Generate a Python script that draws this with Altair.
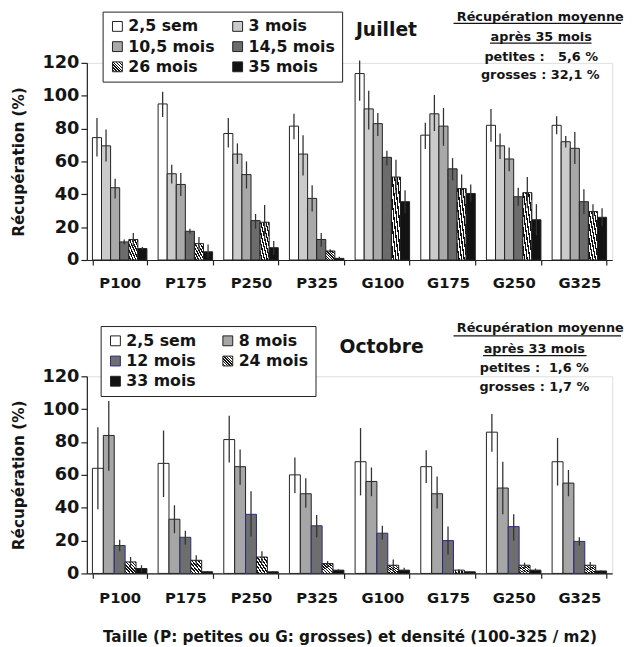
import altair as alt
import pandas as pd

cats = ["P100", "P175", "P250", "P325", "G100", "G175", "G250", "G325"]

# ---- Juillet ----
jul_series = ["2,5 sem", "3 mois", "10,5 mois", "14,5 mois", "26 mois", "35 mois"]
jul_val = {
    "2,5 sem":   [74.5, 95, 77, 81.5, 113.5, 76, 82, 82],
    "3 mois":    [69.5, 52.5, 64.5, 64.5, 92, 89, 69.5, 72],
    "10,5 mois": [44, 46, 52, 37.5, 83, 81.5, 61.5, 68],
    "14,5 mois": [11, 17.5, 24, 12.5, 62.5, 55.5, 38.5, 35.5],
    "26 mois":   [12.5, 10, 23, 5.5, 50.5, 43.5, 41, 29.5],
    "35 mois":   [7, 5, 7.5, 1, 35.5, 40.5, 24.5, 26],
}
jul_lo = {
    "2,5 sem":   [63, 87, 68.5, 73.5, 97, 67.5, 72, 76.5],
    "3 mois":    [60, 46.5, 58.5, 51.5, 79.5, 78.5, 61.5, 68.5],
    "10,5 mois": [37.5, 39, 43.5, 29.5, 75.5, 69.5, 54, 58.5],
    "14,5 mois": [9.5, 16, 19, 8, 57.5, 48.5, 33, 28],
    "26 mois":   [8.5, 6, 12.5, 4.5, 40, 35, 31.5, 25],
    "35 mois":   [6, 1, 3, 0.5, 28.5, 35.5, 15, 20.5],
}
jul_hi = {
    "2,5 sem":   [86.5, 102.5, 86.5, 89, 121.5, 83.5, 92, 87.5],
    "3 mois":    [79.5, 58, 71, 76, 103, 100.5, 77, 75.5],
    "10,5 mois": [49.5, 53, 60, 45.5, 89.5, 92.5, 68.5, 78],
    "14,5 mois": [12.5, 19, 28, 16.5, 66.5, 62, 44, 43],
    "26 mois":   [16.5, 14, 33.5, 6.5, 61, 52, 50.5, 34],
    "35 mois":   [8, 9.5, 11.5, 2, 42.5, 46, 34, 31.5],
}

# ---- Octobre ----
oct_series = ["2,5 sem", "8 mois", "12 mois", "24 mois", "33 mois"]
oct_val = {
    "2,5 sem": [64, 67, 81.5, 60, 68, 65, 86, 68],
    "8 mois":  [84, 33, 65, 48.5, 56, 48.5, 52, 55],
    "12 mois": [17, 22, 36, 29, 24.5, 20, 28.5, 19.5],
    "24 mois": [7, 8, 10, 6, 5, 2, 5, 5],
    "33 mois": [3, 1, 1, 2, 2, 1, 2, 1.5],
}
oct_lo = {
    "2,5 sem": [39, 46.5, 67.5, 49, 47.5, 55, 74, 53.5],
    "8 mois":  [62.5, 24.5, 54, 40, 47, 39.5, 36, 47],
    "12 mois": [13.5, 17.5, 22.5, 22, 20.5, 11.5, 20, 17],
    "24 mois": [4.5, 5, 6.5, 4, 1.5, 1.5, 3.5, 3],
    "33 mois": [1, 0.5, 0.5, 1.5, 1.5, 0.5, 1.5, 1],
}
oct_hi = {
    "2,5 sem": [89, 87, 96, 70.5, 88.5, 75, 97, 82.5],
    "8 mois":  [105, 41.5, 75.5, 58, 64.5, 59, 68, 63],
    "12 mois": [20.5, 26, 50, 35.5, 29, 28.5, 36, 22],
    "24 mois": [10, 11, 13.5, 7.5, 8.5, 2.5, 6.5, 7],
    "33 mois": [5, 1.5, 1.5, 2.5, 3.5, 1.5, 3, 2],
}

y_ticks = [0, 20, 40, 60, 80, 100, 120]

FONT = "DejaVu Sans"
INK = "#151515"

# diagonal hatch as a striped gradient
stops = []
n = 7
for i in range(n):
    a = i / n
    b = (i + 0.5) / n
    c = (i + 1) / n
    stops.append("{offset:%.4f,color:'white'}" % a)
    stops.append("{offset:%.4f,color:'white'}" % b)
    stops.append("{offset:%.4f,color:'#111111'}" % b)
    stops.append("{offset:%.4f,color:'#111111'}" % c)
HATCH = alt.ExprRef(expr="{gradient:'linear',x1:0,y1:1,x2:1,y2:0,stops:[" + ",".join(stops) + "]}")

jul_fill = ["#ffffff", "#cbcbcb", "#a9a9a9", "#6c6c6c", HATCH, "#121212"]
jul_stroke = ["#222222"] * 6
oct_fill = ["#ffffff", "#a6a6a6", "#6e6e6e", HATCH, "#121212"]
oct_stroke = ["#222222", "#222222", "#2a2a80", "#222222", "#222222"]


def make_df(series, val, lo, hi):
    rows = []
    for s in series:
        for i, c in enumerate(cats):
            rows.append({"cat": c, "series": s, "value": val[s][i], "lo": lo[s][i], "hi": hi[s][i]})
    return pd.DataFrame(rows)


def txt(s, x, y, size, anchor="center"):
    return alt.Chart(pd.DataFrame({"t": [s]})).mark_text(
        font=FONT, fontWeight="bold", fontSize=size, color=INK, align=anchor, baseline="middle"
    ).encode(x=alt.value(x), y=alt.value(y), text="t:N")


def uline(x1, x2, y):
    return alt.Chart(pd.DataFrame({"t": [0]})).mark_rule(color=INK, strokeWidth=1.2).encode(
        x=alt.value(x1), x2=alt.value(x2), y=alt.value(y)
    )


def panel(df, series, fills, strokes, lx, ly, colpad, labelpad, xtitle, extras):
    leg = alt.Legend(
        title=None, orient="none", legendX=lx, legendY=ly, columns=2, direction="horizontal",
        symbolType="square", symbolSize=100, symbolStrokeWidth=1,
        labelFont=FONT, labelFontWeight="bold", labelFontSize=16, labelColor=INK,
        labelOffset=3, columnPadding=colpad, rowPadding=4.5, padding=7,
        strokeColor="#222222", fillColor="white", labelLimit=200,
    )
    xaxis = dict(
        tickBand="extent", tickSize=5, labelPadding=labelpad, labelAngle=0,
        labelFont=FONT, labelFontWeight="bold", labelFontSize=15, labelColor=INK,
        domainColor="#222222", tickColor="#222222", domainWidth=1.2, tickWidth=1.2,
        titleFont=FONT, titleFontWeight="bold", titleFontSize=15.5, titleColor=INK,
        titlePadding=25,
    )
    xscale = alt.Scale(paddingInner=0.17, paddingOuter=0.085)
    if xtitle:
        xenc = alt.X("cat:N", sort=cats, title=xtitle, scale=xscale, axis=alt.Axis(**xaxis))
    else:
        xenc = alt.X("cat:N", sort=cats, title=None, scale=xscale, axis=alt.Axis(**xaxis))
    xoff = alt.XOffset("series:N", sort=series,
                       scale=alt.Scale(domain=series, paddingInner=0, paddingOuter=0))
    yaxis = alt.Axis(values=y_ticks, tickCount=7, grid=False, tickSize=6,
                     labelOverlap=False,
                     labelPadding=2, labelFont=FONT, labelFontWeight="bold",
                     labelFontSize=18, labelColor=INK, domainColor="#222222",
                     tickColor="#222222", domainWidth=1.2, tickWidth=1.2,
                     titleFont=FONT, titleFontWeight="bold", titleFontSize=15.5,
                     titleColor=INK, titlePadding=16)
    yscale = alt.Scale(domain=[0, 120], nice=False)
    yenc = alt.Y("value:Q", title="Récupération (%)", scale=yscale, axis=yaxis)
    base = alt.Chart(df)
    bars = base.mark_bar(strokeWidth=1).encode(
        x=xenc, xOffset=xoff, y=yenc,
        fill=alt.Fill("series:N", sort=series, scale=alt.Scale(domain=series, range=fills), legend=leg),
        stroke=alt.Stroke("series:N", sort=series, scale=alt.Scale(domain=series, range=strokes), legend=leg),
    )
    err = base.mark_rule(color="#333333", strokeWidth=1.3).encode(
        x=alt.X("cat:N", sort=cats, title=xtitle if xtitle else None, scale=xscale, axis=alt.Axis(**xaxis)),
        xOffset=xoff,
        y=alt.Y("lo:Q", title="Récupération (%)", scale=yscale, axis=yaxis),
        y2="hi:Q",
    )
    return alt.layer(bars, err, *extras).properties(width=533, height=200)


nb = "\u00a0"
top = panel(
    make_df(jul_series, jul_val, jul_lo, jul_hi), jul_series, jul_fill, jul_stroke,
    16, -52, 15, 11, None,
    [
        txt("Juillet", 304, -33, 19),
        txt("Récupération moyenne", 460, -46, 13),
        uline(372, 542, -40),
        txt("après 35 mois", 461, -26, 13),
        uline(409, 512, -20),
        txt("petites :" + nb * 3 + "5,6 %", 461, -6, 13),
        txt("grosses : 32,1 %", 460, 12, 13),
    ],
)
bottom = panel(
    make_df(oct_series, oct_val, oct_lo, oct_hi), oct_series, oct_fill, oct_stroke,
    14, -51, 24, 12, "Taille (P: petites ou G: grosses) et densité (100-325 / m2)",
    [
        txt("Octobre", 299, -30, 19),
        txt("Récupération moyenne", 460, -49, 13),
        uline(372, 542, -41),
        txt("après 33 mois", 454, -28, 13),
        uline(402, 507, -21),
        txt("petites :" + nb * 2 + "1,6 %", 454, -8, 13),
        txt("grosses : 1,7 %", 454, 11, 13),
    ],
)

chart = alt.vconcat(top, bottom, spacing=30).resolve_scale(
    fill="independent", stroke="independent", xOffset="independent"
).resolve_legend(fill="independent", stroke="independent").properties(
    padding={"left": 2, "top": -2, "right": 0, "bottom": 0}
).configure_view(stroke=None).configure_axisY(labelOverlap=False).configure(background="white")

chart.save("out.html", embed_options={"renderer": "svg", "actions": False})
